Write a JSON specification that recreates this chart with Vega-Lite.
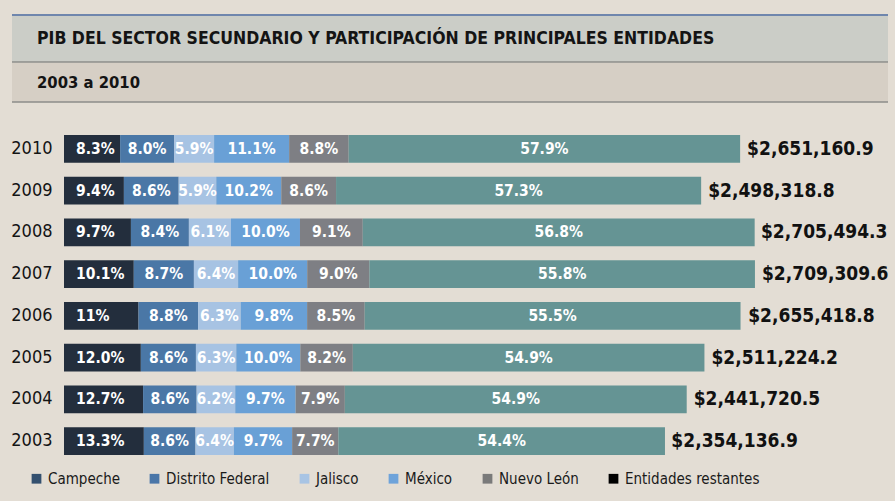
{
  "$schema": "https://vega.github.io/schema/vega-lite/v6.json",
  "background": "#e3ddd4",
  "padding": {"left": 10, "right": 9, "top": 14, "bottom": 15},
  "config": {
    "view": {"stroke": null},
    "font": "DejaVu Sans Condensed, Liberation Sans, sans-serif",
    "text": {"font": "DejaVu Sans Condensed, Liberation Sans, sans-serif"}
  },
  "datasets": {
    "seg": [
      {"year": "2010", "entidad": "Campeche", "orden": 1, "value": 220046.4, "label": "8.3%"},
      {"year": "2010", "entidad": "Distrito Federal", "orden": 2, "value": 212092.9, "label": "8.0%"},
      {"year": "2010", "entidad": "Jalisco", "orden": 3, "value": 156418.5, "label": "5.9%"},
      {"year": "2010", "entidad": "México", "orden": 4, "value": 294278.9, "label": "11.1%"},
      {"year": "2010", "entidad": "Nuevo León", "orden": 5, "value": 233302.2, "label": "8.8%"},
      {"year": "2010", "entidad": "Entidades restantes", "orden": 6, "value": 1535022.2, "label": "57.9%"},
      {"year": "2009", "entidad": "Campeche", "orden": 1, "value": 234842.0, "label": "9.4%"},
      {"year": "2009", "entidad": "Distrito Federal", "orden": 2, "value": 214855.4, "label": "8.6%"},
      {"year": "2009", "entidad": "Jalisco", "orden": 3, "value": 147400.8, "label": "5.9%"},
      {"year": "2009", "entidad": "México", "orden": 4, "value": 254828.5, "label": "10.2%"},
      {"year": "2009", "entidad": "Nuevo León", "orden": 5, "value": 214855.4, "label": "8.6%"},
      {"year": "2009", "entidad": "Entidades restantes", "orden": 6, "value": 1431536.7, "label": "57.3%"},
      {"year": "2008", "entidad": "Campeche", "orden": 1, "value": 262432.9, "label": "9.7%"},
      {"year": "2008", "entidad": "Distrito Federal", "orden": 2, "value": 227261.5, "label": "8.4%"},
      {"year": "2008", "entidad": "Jalisco", "orden": 3, "value": 165035.2, "label": "6.1%"},
      {"year": "2008", "entidad": "México", "orden": 4, "value": 270549.4, "label": "10.0%"},
      {"year": "2008", "entidad": "Nuevo León", "orden": 5, "value": 246200.0, "label": "9.1%"},
      {"year": "2008", "entidad": "Entidades restantes", "orden": 6, "value": 1536720.8, "label": "56.8%"},
      {"year": "2007", "entidad": "Campeche", "orden": 1, "value": 273640.3, "label": "10.1%"},
      {"year": "2007", "entidad": "Distrito Federal", "orden": 2, "value": 235709.9, "label": "8.7%"},
      {"year": "2007", "entidad": "Jalisco", "orden": 3, "value": 173395.8, "label": "6.4%"},
      {"year": "2007", "entidad": "México", "orden": 4, "value": 270931.0, "label": "10.0%"},
      {"year": "2007", "entidad": "Nuevo León", "orden": 5, "value": 243837.9, "label": "9.0%"},
      {"year": "2007", "entidad": "Entidades restantes", "orden": 6, "value": 1511794.8, "label": "55.8%"},
      {"year": "2006", "entidad": "Campeche", "orden": 1, "value": 292096.1, "label": "11%"},
      {"year": "2006", "entidad": "Distrito Federal", "orden": 2, "value": 233676.9, "label": "8.8%"},
      {"year": "2006", "entidad": "Jalisco", "orden": 3, "value": 167291.4, "label": "6.3%"},
      {"year": "2006", "entidad": "México", "orden": 4, "value": 260231.0, "label": "9.8%"},
      {"year": "2006", "entidad": "Nuevo León", "orden": 5, "value": 225710.6, "label": "8.5%"},
      {"year": "2006", "entidad": "Entidades restantes", "orden": 6, "value": 1473757.4, "label": "55.5%"},
      {"year": "2005", "entidad": "Campeche", "orden": 1, "value": 301346.9, "label": "12.0%"},
      {"year": "2005", "entidad": "Distrito Federal", "orden": 2, "value": 215965.3, "label": "8.6%"},
      {"year": "2005", "entidad": "Jalisco", "orden": 3, "value": 158207.1, "label": "6.3%"},
      {"year": "2005", "entidad": "México", "orden": 4, "value": 251122.4, "label": "10.0%"},
      {"year": "2005", "entidad": "Nuevo León", "orden": 5, "value": 205920.4, "label": "8.2%"},
      {"year": "2005", "entidad": "Entidades restantes", "orden": 6, "value": 1378662.1, "label": "54.9%"},
      {"year": "2004", "entidad": "Campeche", "orden": 1, "value": 310098.5, "label": "12.7%"},
      {"year": "2004", "entidad": "Distrito Federal", "orden": 2, "value": 209988.0, "label": "8.6%"},
      {"year": "2004", "entidad": "Jalisco", "orden": 3, "value": 151386.7, "label": "6.2%"},
      {"year": "2004", "entidad": "México", "orden": 4, "value": 236846.9, "label": "9.7%"},
      {"year": "2004", "entidad": "Nuevo León", "orden": 5, "value": 192895.9, "label": "7.9%"},
      {"year": "2004", "entidad": "Entidades restantes", "orden": 6, "value": 1340504.6, "label": "54.9%"},
      {"year": "2003", "entidad": "Campeche", "orden": 1, "value": 313100.2, "label": "13.3%"},
      {"year": "2003", "entidad": "Distrito Federal", "orden": 2, "value": 202455.8, "label": "8.6%"},
      {"year": "2003", "entidad": "Jalisco", "orden": 3, "value": 150664.8, "label": "6.4%"},
      {"year": "2003", "entidad": "México", "orden": 4, "value": 228351.3, "label": "9.7%"},
      {"year": "2003", "entidad": "Nuevo León", "orden": 5, "value": 181268.5, "label": "7.7%"},
      {"year": "2003", "entidad": "Entidades restantes", "orden": 6, "value": 1280650.5, "label": "54.4%"}
    ],
    "tot": [
      {"year": "2010", "total": 2651160.9},
      {"year": "2009", "total": 2498318.8},
      {"year": "2008", "total": 2705494.3},
      {"year": "2007", "total": 2709309.6},
      {"year": "2006", "total": 2655418.8},
      {"year": "2005", "total": 2511224.2},
      {"year": "2004", "total": 2441720.5},
      {"year": "2003", "total": 2354136.9}
    ],
    "leyenda": [
      {"entidad": "Campeche"},
      {"entidad": "Distrito Federal"},
      {"entidad": "Jalisco"},
      {"entidad": "México"},
      {"entidad": "Nuevo León"},
      {"entidad": "Entidades restantes"}
    ]
  },
  "vconcat": [
    {
      "spacing": 0,
      "vconcat": [
        {
          "width": 876,
          "height": 47,
          "view": {"fill": "#cbcdc7", "stroke": null},
          "data": {"values": [{"t": "PIB DEL SECTOR SECUNDARIO Y PARTICIPACIÓN DE PRINCIPALES ENTIDADES", "p": 0}]},
          "layer": [
            {
              "mark": {"type": "text", "align": "left", "baseline": "middle", "dx": 25, "fontSize": 17.5, "fontWeight": "bold", "color": "#141414"},
              "encoding": {
                "x": {"field": "p", "type": "quantitative", "scale": {"domain": [0, 1]}, "axis": null},
                "text": {"field": "t"}
              }
            },
            {
              "mark": {"type": "rule", "color": "#6f86ad", "strokeWidth": 2},
              "encoding": {"y": {"datum": 1, "type": "quantitative", "scale": {"domain": [0, 1]}, "axis": null}}
            },
            {
              "mark": {"type": "rule", "color": "#8c8c8a", "strokeWidth": 1.5},
              "encoding": {"y": {"datum": 0, "type": "quantitative", "scale": {"domain": [0, 1]}, "axis": null}}
            }
          ]
        },
        {
          "width": 876,
          "height": 39,
          "view": {"fill": "#d6cfc5", "stroke": null},
          "data": {"values": [{"t": "2003 a 2010", "p": 0}]},
          "layer": [
            {
              "mark": {"type": "text", "align": "left", "baseline": "middle", "dx": 25, "fontSize": 16.5, "fontWeight": "bold", "color": "#141414"},
              "encoding": {
                "x": {"field": "p", "type": "quantitative", "scale": {"domain": [0, 1]}, "axis": null},
                "text": {"field": "t"}
              }
            },
            {
              "mark": {"type": "rule", "color": "#8c8c8a", "strokeWidth": 1.5},
              "encoding": {"y": {"datum": 0, "type": "quantitative", "scale": {"domain": [0, 1]}, "axis": null}}
            }
          ]
        }
      ]
    },
    {
      "width": 876,
      "height": 334,
      "resolve": {"scale": {"color": "independent"}},
      "encoding": {
        "y": {"field": "year", "type": "ordinal", "sort": "descending",
              "scale": {"paddingInner": 0.33, "paddingOuter": 0.165},
              "axis": {"title": null, "domain": false, "ticks": false, "offset": -52, "labelFontSize": 18, "labelColor": "#141414", "labelPadding": 12, "labelFont": "DejaVu Sans Condensed, Liberation Sans, sans-serif"}}
      },
      "layer": [
        {
          "data": {"name": "seg"},
          "mark": {"type": "bar"},
          "encoding": {
            "x": {"field": "value", "type": "quantitative", "stack": "zero", "scale": {"domain": [-203900, 3231000], "nice": false, "zero": false}, "axis": null},
            "order": {"field": "orden", "type": "quantitative"},
            "color": {
              "field": "entidad", "type": "nominal", "legend": null,
              "scale": {
                "domain": ["Campeche", "Distrito Federal", "Jalisco", "México", "Nuevo León", "Entidades restantes"],
                "range": ["#232e3d", "#4a77a6", "#a7c3e3", "#69a0d6", "#7e7f84", "#659494"]
              }
            }
          }
        },
        {
          "data": {"name": "seg"},
          "mark": {"type": "text", "color": "white", "fontSize": 15.5, "fontWeight": "bold", "baseline": "middle", "align": "center"},
          "encoding": {
            "x": {"field": "value", "type": "quantitative", "stack": "zero", "bandPosition": 0.5},
            "order": {"field": "orden", "type": "quantitative"},
            "detail": {"field": "entidad"},
            "text": {"condition": {"test": "datum.orden == 1", "value": ""}, "field": "label"}
          }
        },
        {
          "data": {"name": "seg"},
          "transform": [{"filter": "datum.orden == 1"}],
          "mark": {"type": "text", "color": "white", "fontSize": 15.5, "fontWeight": "bold", "baseline": "middle", "align": "left", "dx": 12},
          "encoding": {
            "x": {"datum": 0, "type": "quantitative"},
            "text": {"field": "label"}
          }
        },
        {
          "data": {"name": "tot"},
          "mark": {"type": "text", "align": "left", "baseline": "middle", "dx": 7, "fontSize": 19, "fontWeight": "bold", "color": "#111111"},
          "encoding": {
            "x": {"field": "total", "type": "quantitative"},
            "text": {"field": "total", "type": "quantitative", "format": "$,.1f"}
          }
        },
        {
          "data": {"name": "leyenda"},
          "mark": {"type": "bar", "strokeWidth": 0},
          "encoding": {
            "x": {"datum": 0, "type": "quantitative"},
            "x2": {"datum": 0},
            "y": null,
            "color": {
              "field": "entidad", "type": "nominal",
              "scale": {
                "domain": ["Campeche", "Distrito Federal", "Jalisco", "México", "Nuevo León", "Entidades restantes"],
                "range": ["#34506f", "#4a76a8", "#a8c4e4", "#6ea3da", "#7a7a7a", "#000000"]
              },
              "legend": {
                "title": null, "orient": "none", "direction": "horizontal",
                "legendX": 17, "legendY": 343,
                "symbolType": "square", "symbolSize": 95, "symbolStrokeWidth": 0,
                "labelFontSize": 15, "labelColor": "#1a1a1a", "labelOffset": 4,
                "labelFont": "DejaVu Sans Condensed, Liberation Sans, sans-serif",
                "columnPadding": 27
              }
            }
          }
        }
      ]
    }
  ],
  "spacing": 25
}
